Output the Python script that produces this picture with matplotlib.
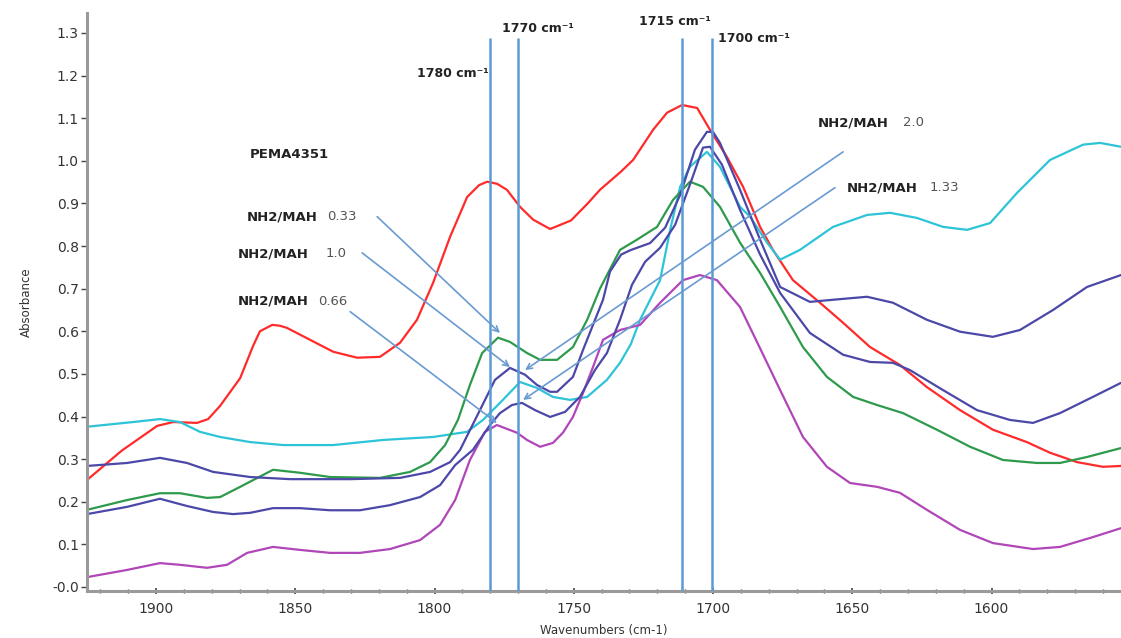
import matplotlib
matplotlib.use('Agg')
import matplotlib.pyplot as plt

# Espectros FTIR (wavenumber, absorbance)
red_wn = [1924.8, 1912.3, 1899.6, 1893.9, 1885.3, 1881.3, 1877.0, 1869.8, 1865.2, 1862.7,
          1858.3, 1855.5, 1853.0, 1844.7, 1836.4, 1827.8, 1819.6, 1812.4, 1806.3, 1800.5,
          1794.4, 1788.3, 1784.0, 1781.1, 1777.5, 1774.0, 1769.3, 1764.6, 1758.5, 1751.0,
          1745.0, 1740.6, 1733.0, 1728.7, 1721.5, 1716.5, 1711.1, 1705.7, 1701.1, 1695.0,
          1689.2, 1683.1, 1678.5, 1671.3, 1661.6, 1653.3, 1643.6, 1632.9, 1623.2, 1611.3,
          1599.5, 1587.3, 1579.0, 1569.3, 1560.0, 1553.5]
red_abs = [0.251, 0.32, 0.378, 0.387, 0.385, 0.394, 0.425, 0.49, 0.565, 0.60,
           0.615, 0.613, 0.608, 0.58, 0.552, 0.538, 0.54, 0.573, 0.627, 0.714,
           0.822, 0.915, 0.943, 0.951, 0.946, 0.932, 0.892, 0.862, 0.84, 0.86,
           0.90, 0.932, 0.975, 1.002, 1.073, 1.113, 1.131, 1.124, 1.073, 1.009,
           0.939, 0.845, 0.791, 0.72, 0.667, 0.62, 0.563, 0.521, 0.469, 0.415,
           0.369, 0.34, 0.315, 0.293, 0.282, 0.284]

cyan_wn = [1924.8, 1908.3, 1898.6, 1891.4, 1884.2, 1877.0, 1866.2, 1854.4, 1836.4, 1818.5,
           1800.5, 1788.3, 1782.6, 1776.5, 1769.3, 1763.2, 1757.5, 1751.3, 1745.2, 1738.1,
           1733.4, 1729.5, 1726.2, 1719.0, 1715.4, 1711.8, 1708.3, 1702.2, 1697.5, 1690.3,
           1686.7, 1680.6, 1675.9, 1668.8, 1656.9, 1644.7, 1636.4, 1626.8, 1617.4, 1608.8,
           1600.5, 1590.8, 1579.0, 1567.1, 1561.0, 1553.5]
cyan_abs = [0.376, 0.387, 0.394, 0.387, 0.364, 0.352, 0.34, 0.333, 0.333, 0.345,
            0.352, 0.364, 0.392, 0.432, 0.481, 0.467, 0.446, 0.439, 0.446, 0.486,
            0.526, 0.57, 0.627, 0.72, 0.838, 0.939, 0.986, 1.021, 0.986, 0.892,
            0.869, 0.808, 0.768, 0.791, 0.845, 0.873, 0.878, 0.866, 0.845, 0.838,
            0.854, 0.925, 1.002, 1.038, 1.042, 1.033]

green_wn = [1924.8, 1910.4, 1898.6, 1891.4, 1881.7, 1877.0, 1869.8, 1858.0, 1848.3, 1837.5,
            1819.6, 1808.8, 1801.6, 1796.2, 1791.6, 1787.3, 1782.9, 1777.2, 1772.9, 1766.8,
            1762.1, 1756.0, 1750.3, 1745.2, 1740.6, 1733.4, 1727.3, 1720.1, 1714.4, 1708.3,
            1703.6, 1697.5, 1690.3, 1683.1, 1675.9, 1667.7, 1659.1, 1649.7, 1641.1, 1631.8,
            1619.6, 1607.7, 1595.9, 1583.7, 1575.4, 1565.7, 1553.5]
green_abs = [0.181, 0.204, 0.22, 0.22, 0.209, 0.211, 0.235, 0.275, 0.268, 0.258,
             0.256, 0.27, 0.293, 0.333, 0.392, 0.474, 0.549, 0.585, 0.575, 0.549,
             0.533, 0.533, 0.563, 0.627, 0.70, 0.791, 0.815, 0.845, 0.908, 0.951,
             0.939, 0.892, 0.808, 0.737, 0.657, 0.563, 0.493, 0.446, 0.427, 0.408,
             0.369, 0.329, 0.298, 0.291, 0.291, 0.305, 0.326]

magenta_wn = [1924.8, 1910.4, 1898.6, 1891.4, 1881.7, 1874.5, 1867.3, 1858.0, 1848.3, 1837.5,
              1826.8, 1816.0, 1805.2, 1798.0, 1792.6, 1787.3, 1781.9, 1777.6, 1770.4, 1766.8,
              1762.1, 1757.5, 1753.9, 1750.3, 1746.7, 1743.1, 1739.5, 1733.4, 1726.2, 1719.0,
              1710.8, 1704.7, 1698.6, 1690.3, 1683.1, 1675.9, 1667.7, 1659.1, 1650.8, 1641.1,
              1632.9, 1623.2, 1611.3, 1599.5, 1585.1, 1575.4, 1563.6, 1553.5]
magenta_abs = [0.023, 0.04, 0.056, 0.052, 0.045, 0.052, 0.08, 0.094, 0.087, 0.08,
               0.08, 0.089, 0.11, 0.146, 0.204, 0.298, 0.364, 0.38, 0.362, 0.345,
               0.329, 0.338, 0.362, 0.399, 0.455, 0.516, 0.58, 0.603, 0.615, 0.667,
               0.72, 0.732, 0.72, 0.657, 0.56, 0.462, 0.352, 0.282, 0.244, 0.235,
               0.221, 0.181, 0.134, 0.103, 0.089, 0.094, 0.117, 0.138]

blue_a_wn = [1924.8, 1910.4, 1898.6, 1888.9, 1879.5, 1866.2, 1851.9, 1830.3, 1812.4, 1801.6,
             1794.4, 1790.8, 1783.7, 1778.3, 1772.9, 1767.5, 1763.2, 1758.5, 1756.0, 1750.3,
             1746.7, 1739.5, 1737.0, 1733.0, 1729.8, 1722.6, 1717.2, 1711.8, 1706.5, 1702.2,
             1700.0, 1697.5, 1690.3, 1683.1, 1675.9, 1665.2, 1656.9, 1644.7, 1635.4, 1623.2,
             1611.3, 1599.5, 1589.8, 1577.9, 1565.7, 1553.5]
blue_a_abs = [0.284, 0.291, 0.303, 0.291, 0.27, 0.258, 0.253, 0.253, 0.256, 0.27,
              0.293, 0.322, 0.415, 0.486, 0.514, 0.498, 0.474, 0.458, 0.458, 0.493,
              0.556, 0.674, 0.74, 0.78, 0.79, 0.807, 0.843, 0.92, 1.026, 1.068,
              1.068, 1.042, 0.932, 0.815, 0.704, 0.669, 0.674, 0.681, 0.667, 0.627,
              0.599, 0.587, 0.603, 0.65, 0.704, 0.732]

blue_b_wn = [1924.8, 1910.4, 1898.6, 1888.9, 1879.5, 1872.4, 1866.2, 1858.0, 1848.3, 1837.5,
             1826.8, 1816.0, 1805.2, 1798.0, 1792.6, 1786.2, 1780.1, 1776.5, 1772.2, 1768.6,
             1763.9, 1758.5, 1753.1, 1747.8, 1742.4, 1738.1, 1733.4, 1729.1, 1724.4, 1719.0,
             1713.6, 1708.3, 1703.6, 1701.1, 1696.8, 1690.3, 1683.1, 1675.9, 1665.2, 1653.3,
             1643.6, 1635.4, 1629.3, 1617.4, 1605.2, 1593.4, 1585.1, 1575.4, 1563.6, 1553.5]
blue_b_abs = [0.171, 0.188, 0.207, 0.19, 0.176, 0.171, 0.174, 0.185, 0.185, 0.18,
              0.18, 0.192, 0.211, 0.239, 0.286, 0.322, 0.38, 0.408, 0.427, 0.432,
              0.415, 0.399, 0.411, 0.446, 0.509, 0.549, 0.627, 0.709, 0.763, 0.796,
              0.85, 0.944, 1.031, 1.033, 0.991, 0.885, 0.78, 0.69, 0.596, 0.545,
              0.528, 0.526, 0.509, 0.462, 0.415, 0.392, 0.385, 0.408, 0.446, 0.479]

# Linhas verticais de referência
vline_pos = [1780, 1770, 1711, 1700.5]
vline_labels = ['1780 cm⁻¹', '1770 cm⁻¹', '1715 cm⁻¹', '1700 cm⁻¹']

y_ticks = [0.0, 0.1, 0.2, 0.3, 0.4, 0.5, 0.6, 0.7, 0.8, 0.9, 1.0, 1.1, 1.2, 1.3]
y_ticklabels = ['-0.0', '0.1', '0.2', '0.3', '0.4', '0.5', '0.6', '0.7', '0.8', '0.9',
                '1.0', '1.1', '1.2', '1.3']
x_ticks = [1900, 1850, 1800, 1750, 1700, 1650, 1600]

fig = plt.figure(figsize=(11.21, 6.38), dpi=100)
ax = fig.add_axes([0.0776, 0.0737, 0.9224, 0.906])

estilo = dict(lw=1.6, solid_joinstyle='round', solid_capstyle='round')
ax.plot(red_wn, red_abs, color='#FF2B2B', **estilo)
ax.plot(cyan_wn, cyan_abs, color='#2DC4D8', **estilo)
ax.plot(green_wn, green_abs, color='#2E9A4C', **estilo)
ax.plot(magenta_wn, magenta_abs, color='#B046B8', **estilo)
ax.plot(blue_a_wn, blue_a_abs, color='#4B48A8', **estilo)
ax.plot(blue_b_wn, blue_b_abs, color='#4B48A8', **estilo)

ax.set_xlim(1924.8, 1553.5)
ax.set_ylim(-0.0094, 1.347)

# linhas verticais
ax.vlines(vline_pos, -0.0094, 1.289, colors='#5B9BD5', lw=1.8, zorder=3)

lab = dict(fontsize=9, fontweight='bold', color='#222222')
ax.text(1780.5, 1.204, vline_labels[0], ha='right', va='center', **lab)
ax.text(1775.8, 1.31, vline_labels[1], ha='left', va='center', **lab)
ax.text(1713.6, 1.326, vline_labels[2], ha='center', va='center', **lab)
ax.text(1698.2, 1.286, vline_labels[3], ha='left', va='center', **lab)

# legendas das amostras
lab2 = dict(fontsize=9.5, fontweight='bold', color='#222222')
ax.text(1866.2, 1.014, 'PEMA4351', ha='left', va='center', **lab2)

samples = [
    ((1867.3, 0.869), (1838.6, 0.869), '0.33', (1820.6, 0.869), (1776.5, 0.596)),
    ((1870.6, 0.782), (1839.3, 0.782), '1.0', (1826.0, 0.784), (1772.9, 0.516)),
    ((1870.6, 0.671), (1841.8, 0.671), '0.66', (1830.3, 0.646), (1777.6, 0.385)),
    ((1662.3, 1.089), (1631.8, 1.089), '2.0', (1653.3, 1.021), (1767.5, 0.509)),
    ((1651.9, 0.937), (1622.1, 0.937), '1.33', (1656.2, 0.937), (1768.2, 0.439)),
]
for pos_nome, pos_val, val, origem, alvo in samples:
    ax.text(pos_nome[0], pos_nome[1], 'NH2/MAH', ha='left', va='center', **lab2)
    ax.text(pos_val[0], pos_val[1], val, ha='left', va='center', fontsize=9.5, color='#555555')
    ax.annotate('', xy=alvo, xytext=origem,
                arrowprops=dict(arrowstyle='->', color='#6A9AD2', lw=1.2,
                                shrinkA=0, shrinkB=0), zorder=4)

# eixos
for s in ['top', 'right']:
    ax.spines[s].set_visible(False)
for s in ['left', 'bottom']:
    ax.spines[s].set_color('#9A9A9A')
    ax.spines[s].set_linewidth(2.2)

ax.set_yticks(y_ticks)
ax.set_yticklabels(y_ticklabels)
ax.set_xticks(x_ticks)
ax.set_xticks(list(range(1920, 1550, -10)), minor=True)
ax.tick_params(axis='y', direction='out', length=4, width=1, color='#444444',
               labelsize=10, labelcolor='#333333', pad=2)
ax.tick_params(axis='x', which='major', direction='inout', length=4, width=1.2,
               color='#444444', labelsize=10, labelcolor='#333333', pad=6)
ax.tick_params(axis='x', which='minor', direction='inout', length=3, width=1, color='#444444')

ax.set_xlabel('Wavenumbers (cm-1)', fontsize=8.5, color='#333333', labelpad=6)
ax.set_ylabel('Absorbance', fontsize=8.5, color='#333333', labelpad=14)

plt.savefig('out.png', dpi=100)
plt.close()
